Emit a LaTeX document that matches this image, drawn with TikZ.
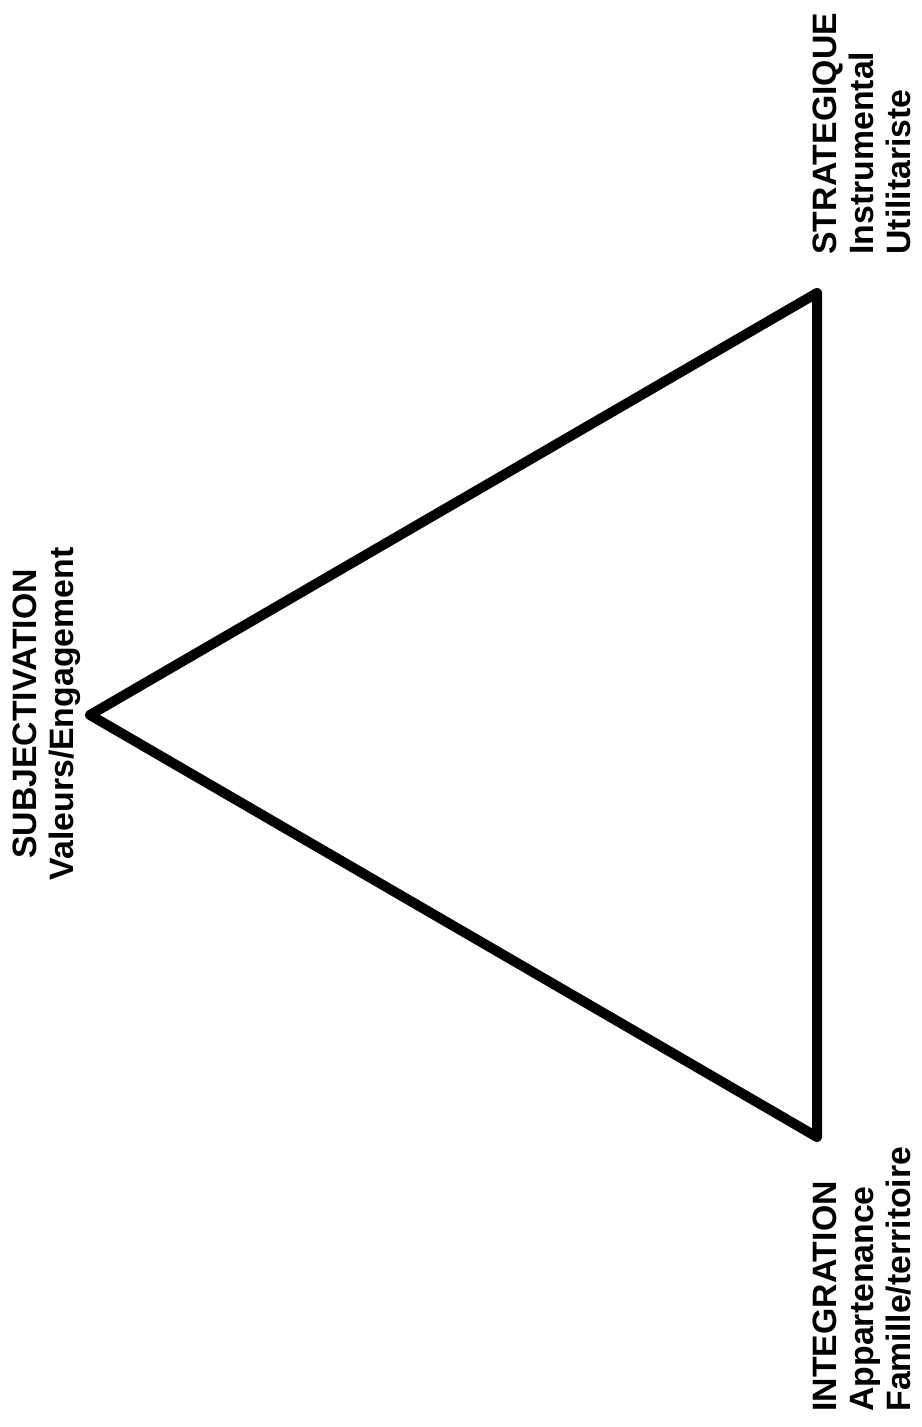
\documentclass[tikz,border=0pt]{standalone}
\usepackage{fontspec}
\setmainfont{Liberation Sans}
\usetikzlibrary{positioning}
\tikzset{
  pole/.style={rotate=90, inner sep=0pt, font=\bfseries\fontsize{16.9}{18.7}\selectfont},
  side/.style={line width=5pt, line join=round}
}

\begin{document}
\begin{tikzpicture}[x=0.5pt, y=0.5pt]
  \useasboundingbox (0,0) rectangle (921,1427);
  % corners of the triangle
  \coordinate (subj) at (90,712);
  \coordinate (strat) at (817,1134);
  \coordinate (integ) at (817,290);
  \draw[side] (subj) -- (strat) -- (integ) -- cycle;
  % labels, read from bottom to top
  \node[pole, align=center, anchor=north] (subjlbl) at (12,713) {SUBJECTIVATION\\Valeurs/Engagement};
  \node[pole, align=left, anchor=north west] (stratlbl) at (812,1172) {STRATEGIQUE\\Instrumental\\Utilitariste};
  \node[pole, align=left, anchor=north west] (integlbl) at (812,15) {INTEGRATION\\Appartenance\\Famille/territoire};
\end{tikzpicture}
\end{document}
